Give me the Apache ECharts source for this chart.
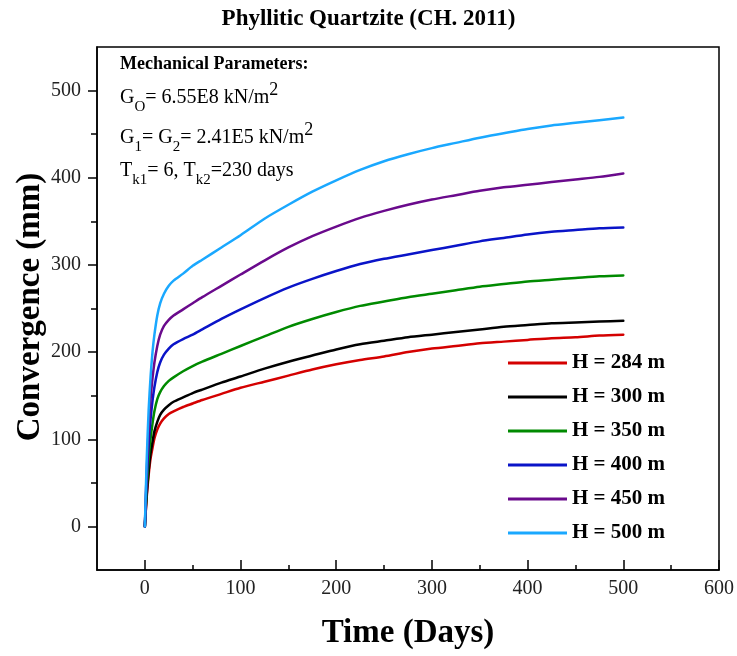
<!DOCTYPE html>
<html>
<head>
<meta charset="utf-8">
<script src="https://cdn.jsdelivr.net/npm/echarts@6/dist/echarts.min.js"></script>
<style>html,body{margin:0;padding:0;background:#fff;}#c{width:737px;height:656px;}</style>
</head>
<body>
<div id="c"></div>
<script>
// Time (days)
const times = [0,2,4,6,8,10,13,16,20,25,30,40,50,60,80,100,125,150,175,200,225,250,275,300,325,350,375,400,425,450,475,500];
// Convergence (mm) for each overburden depth H
const h284 = [0,34,59,78,90,101,111,118,124,129,132,137,141,145,152,159,166,173,180,186,191,195,200,204,207,210,212,214,216,217,219,220];
const h300 = [0,37,64,84,97,109,120,128,134,139,143,148,153,157,165,172,181,189,196,203,209,213,217,220,223,226,229,231,233,234,235,236];
const h350 = [0,45,78,101,118,132,146,154,161,167,171,178,184,189,198,207,218,229,238,246,253,258,263,267,271,275,278,281,283,285,287,288];
const h400 = [0,55,95,123,144,160,177,188,197,204,209,215,220,226,238,249,262,274,284,293,301,307,312,317,322,327,331,335,338,340,342,343];
const h450 = [0,65,112,146,170,188,207,220,230,237,242,249,256,263,276,289,305,320,333,344,354,362,369,375,380,385,389,392,395,398,401,405];
const h500 = [0,78,134,172,200,220,242,256,267,276,282,290,299,306,320,334,353,369,384,397,409,419,427,434,440,446,451,456,460,463,466,469];
const seriesNames = ['H = 284 m','H = 300 m','H = 350 m','H = 400 m','H = 450 m','H = 500 m'];
const seriesData = [h284,h300,h350,h400,h450,h500];
const colors = ['#d40000','#000000','#008a00','#0a14c8','#6a0a8c','#1aa8ff'];
// Ticks
const xMajor = [0,100,200,300,400,500,600];
const xMinor = [50,150,250,350,450,550];
const yMajor = [0,100,200,300,400,500];
const yMinor = [50,150,250,350,450];

const FONT = '"Liberation Serif","Times New Roman",serif';
const chart = echarts.init(document.getElementById('c'));

const series = seriesData.map((d,i)=>({
  name: seriesNames[i],
  type: 'line',
  xAxisIndex: 0, yAxisIndex: 0,
  data: times.map((t,j)=>[t,d[j]]),
  showSymbol: false,
  smooth: 0.25,
  lineStyle: {color: colors[i], width: 2.5, join: 'round', cap: 'round'},
  itemStyle: {color: colors[i]},
  z: 3 + i
}));

const base = {fontFamily: FONT, fontSize: 20, lineHeight: 34, verticalAlign: 'middle', fill: '#000'};
const sub = {fontFamily: FONT, fontSize: 15, lineHeight: 24, verticalAlign: 'bottom', fill: '#000'};
const sup = {fontFamily: FONT, fontSize: 18, lineHeight: 26, verticalAlign: 'top', fill: '#000'};
const richSet = {b: base, s: sub, p: sup};

chart.setOption({
  animation: false,
  backgroundColor: '#fff',
  grid: {left: 97, right: 17, top: 47, bottom: 86, show: true, borderColor: '#000', borderWidth: 1.5, backgroundColor: 'transparent'},
  legend: {
    orient: 'vertical', left: 503, top: 346,
    itemWidth: 59, itemHeight: 3, itemGap: 10, icon: 'rect',
    textStyle: {fontFamily: FONT, fontSize: 21, fontWeight: 'bold', color: '#000', lineHeight: 24},
    data: seriesNames
  },
  xAxis: [
    {type: 'value', min: -50, max: 600, interval: 50,
     axisLine: {show: true, onZero: false, lineStyle: {color: '#000', width: 1.5}},
     axisTick: {show: true, inside: true, length: 10, customValues: xMajor, lineStyle: {color: '#000', width: 1.5}},
     axisLabel: {customValues: xMajor, fontFamily: FONT, fontSize: 20, color: '#222', margin: 9},
     splitLine: {show: false}},
    {type: 'value', min: -50, max: 600, interval: 50, position: 'bottom', offset: 0,
     axisLine: {show: false, onZero: false},
     axisTick: {show: true, inside: true, length: 5, customValues: xMinor, lineStyle: {color: '#000', width: 1.5}},
     axisLabel: {show: false}, splitLine: {show: false}}
  ],
  yAxis: [
    {type: 'value', min: -50, max: 550, interval: 50,
     axisLine: {show: true, onZero: false, lineStyle: {color: '#000', width: 1.5}},
     axisTick: {show: true, inside: false, length: 9, customValues: yMajor, lineStyle: {color: '#000', width: 1.5}},
     axisLabel: {customValues: yMajor, fontFamily: FONT, fontSize: 20, color: '#222', margin: 16},
     splitLine: {show: false}},
    {type: 'value', min: -50, max: 550, interval: 50, position: 'left', offset: 0,
     axisLine: {show: false, onZero: false},
     axisTick: {show: true, inside: false, length: 6, customValues: yMinor, lineStyle: {color: '#000', width: 1.5}},
     axisLabel: {show: false}, splitLine: {show: false}}
  ],
  graphic: [
    {type: 'text', left: 'center', top: 8, style: {text: 'Phyllitic Quartzite (CH. 2011)', fontFamily: FONT, fontSize: 23, fontWeight: 'bold', fill: '#000'}},
    {type: 'text', x: 408, y: 633, style: {text: 'Time (Days)', fontFamily: FONT, fontSize: 33, fontWeight: 'bold', fill: '#000', align: 'center', verticalAlign: 'middle'}},
    {type: 'text', x: 30, y: 307, rotation: Math.PI/2, style: {text: 'Convergence (mm)', fontFamily: FONT, fontSize: 33, fontWeight: 'bold', fill: '#000', align: 'center', verticalAlign: 'middle'}},
    {type: 'text', x: 120, y: 64, style: {text: 'Mechanical Parameters:', fontFamily: FONT, fontSize: 18, fontWeight: 'bold', fill: '#000', align: 'left', verticalAlign: 'middle'}},
    {type: 'text', x: 120, y: 98, style: {text: '{b|G}{s|O}{b|= 6.55E8 kN/m}{p|2}', rich: richSet, align: 'left', verticalAlign: 'middle'}},
    {type: 'text', x: 120, y: 138, style: {text: '{b|G}{s|1}{b|= G}{s|2}{b|= 2.41E5 kN/m}{p|2}', rich: richSet, align: 'left', verticalAlign: 'middle'}},
    {type: 'text', x: 120, y: 171, style: {text: '{b|T}{s|k1}{b|= 6, T}{s|k2}{b|=230 days}', rich: richSet, align: 'left', verticalAlign: 'middle'}}
  ],
  series: series
});
</script>
</body>
</html>
